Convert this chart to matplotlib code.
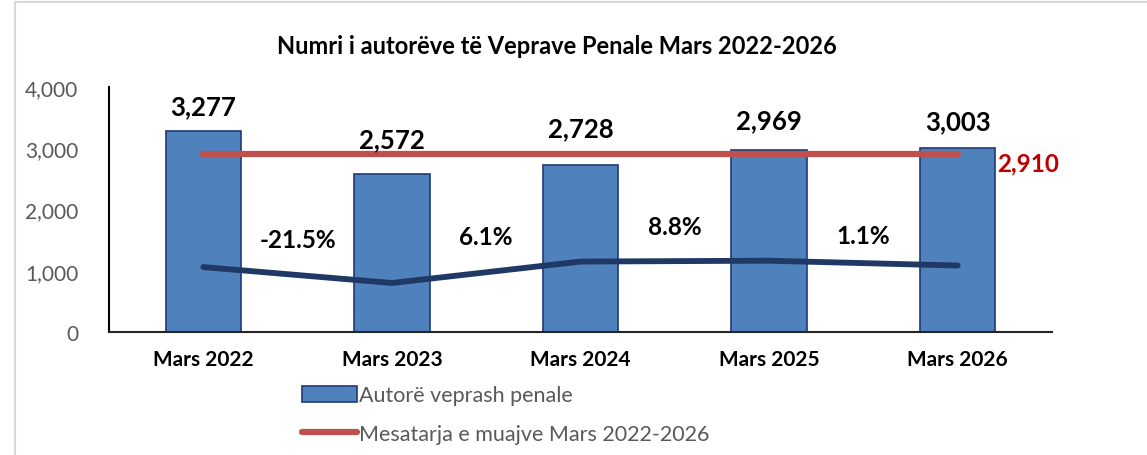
import numpy as np
import matplotlib.pyplot as plt
from matplotlib.lines import Line2D
from matplotlib.patches import Patch

plt.rcParams['font.family'] = ['Lato', 'DejaVu Sans']

categories = ['Mars 2022', 'Mars 2023', 'Mars 2024', 'Mars 2025', 'Mars 2026']
autore = [3277, 2572, 2728, 2969, 3003]
mesatarja = [2910, 2910, 2910, 2910, 2910]
trend = [1060, 800, 1150, 1164, 1085]
ndryshimi = ['-21.5%', '6.1%', '8.8%', '1.1%']

# label heights (data units)
label_y = [3690, 3150, 3330, 3460, 3440]
pct_y = [1510, 1560, 1720, 1575]

fig = plt.figure(figsize=(11.47, 4.56), dpi=100)
ax = fig.add_axes([109 / 1147, 1 - 333 / 456, 943 / 1147, 245 / 456])

x = np.arange(len(categories))
ax.bar(x, autore, width=0.4, color='#4F81BD', edgecolor='#1F3A73', linewidth=1.2,
       zorder=2)
ax.plot(x, mesatarja, color='#C0504D', lw=4.5, solid_capstyle='round', zorder=3)
ax.plot(x, trend, color='#1F3864', lw=4.2, solid_capstyle='round', zorder=3)

for i, v in enumerate(autore):
    ax.text(x[i], label_y[i], f'{v:,}', ha='center', va='center', fontsize=18.5,
            fontweight='bold', color='black')
for i, s in enumerate(ndryshimi):
    ax.text(x[i] + 0.5, pct_y[i], s, ha='center', va='center', fontsize=17.5,
            fontweight='bold', color='black')
ax.text(x[-1] + 0.21, mesatarja[-1] - 150, f'{mesatarja[-1]:,}', ha='left',
        va='center', fontsize=17.5, fontweight='bold', color='#C00000')

ax.set_xlim(-0.5, len(categories) - 0.5)
ax.set_ylim(0, 4000)
ax.set_yticks([0, 1000, 2000, 3000, 4000])
ax.set_yticklabels([f'{t:,}' for t in [0, 1000, 2000, 3000, 4000]], color='#595959',
                   fontsize=15)
ax.set_xticks(x)
ax.set_xticklabels(categories, fontsize=15, fontweight='bold')
ax.tick_params(axis='both', length=0)
ax.tick_params(axis='y', pad=22)
ax.tick_params(axis='x', pad=12)
for side in ['top', 'right']:
    ax.spines[side].set_visible(False)
ax.spines['left'].set_color('black')
ax.spines['left'].set_linewidth(1.5)
ax.spines['bottom'].set_color('#262626')
ax.spines['bottom'].set_linewidth(1.5)

fig.text(557 / 1147, 1 - 47 / 456, 'Numri i autorëve të Veprave Penale Mars 2022-2026',
         ha='center', va='center', fontsize=17, fontweight='bold')

handles = [Patch(facecolor='#4F81BD', edgecolor='#1F3A73', linewidth=1.2),
           Line2D([0], [0], color='#C0504D', lw=4.5, solid_capstyle='round')]
leg = fig.legend(handles, ['Autorë veprash penale', 'Mesatarja e muajve Mars 2022-2026'],
                 loc='upper left', bbox_to_anchor=(283 / 1147, 1 - 367 / 456),
                 frameon=False, fontsize=15.5, handlelength=2.55, handleheight=0.75,
                 handletextpad=0.08, labelspacing=0.85, labelcolor='#595959')

# light frame around the chart area
fig.add_artist(Line2D([15 / 1147, 15 / 1147], [0, 1 - 3 / 456], color='#D9D9D9', lw=1.5))
fig.add_artist(Line2D([15 / 1147, 1], [1 - 3 / 456, 1 - 3 / 456], color='#D9D9D9', lw=1.5))

fig.savefig('out.png', dpi=100)
